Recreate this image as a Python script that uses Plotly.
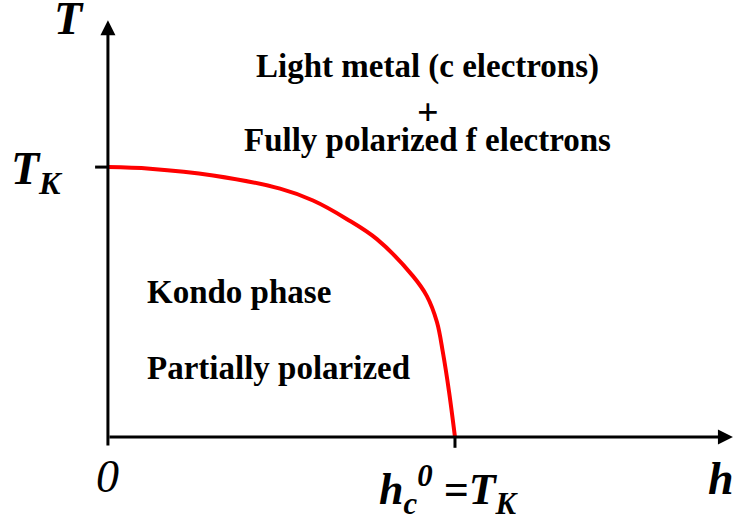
import plotly.graph_objects as go

# Phase boundary T*(h), normalised: h in units of hc0, T in units of TK
h_vals = [0.0, 0.121, 0.303, 0.496, 0.591, 0.689, 0.775, 0.879, 0.919, 0.948, 0.965, 0.983, 1.0]
T_vals = [1.0, 0.994, 0.969, 0.920, 0.876, 0.807, 0.733, 0.596, 0.522, 0.426, 0.315, 0.167, 0.0]

x_range = [-0.311, 1.804]
y_range = [-0.326, 1.619]

FONT = "Liberation Serif, Times New Roman, Times, serif"

fig = go.Figure()
fig.add_trace(go.Scatter(
    x=h_vals, y=T_vals, mode="lines",
    line=dict(color="#ff0000", width=4, shape="spline", smoothing=1.0),
    hoverinfo="skip", showlegend=False,
))

annotations = []
# axis arrows
annotations.append(dict(x=0, y=1.544, ax=0, ay=-0.037, xref="x", yref="y", axref="x", ayref="y",
                        text="", showarrow=True, arrowhead=2, arrowsize=1, arrowwidth=3,
                        arrowcolor="black", standoff=0, startstandoff=0))
annotations.append(dict(x=1.801, y=0, ax=0, ay=0, xref="x", yref="y", axref="x", ayref="y",
                        text="", showarrow=True, arrowhead=2, arrowsize=1, arrowwidth=3,
                        arrowcolor="black", standoff=0, startstandoff=0))

def txt(x, y, s, size, xanchor="center", yanchor="middle"):
    annotations.append(dict(x=x, y=y, xref="x", yref="y", text=s, showarrow=False,
                            xanchor=xanchor, yanchor=yanchor,
                            font=dict(family=FONT, size=size, color="black")))

txt(0.921, 1.374, "<b>Light metal (c electrons)</b>", 33)
txt(0.921, 1.205, "<b>+</b>", 38)
txt(0.921, 1.100, "<b>Fully polarized f electrons</b>", 33)
txt(0.107, 0.537, "<b>Kondo phase</b>", 33, xanchor="left")
txt(0.107, 0.256, "<b>Partially polarized</b>", 33, xanchor="left")

txt(-0.112, 1.550, "<b><i>T</i></b>", 46)
txt(-0.285, 0.98, "<b><i>T<sub>K</sub></i></b>", 46, xanchor="left")
txt(0.0, -0.148, "<i>0</i>", 46)
txt(1.767, -0.152, "<b><i>h</i></b>", 46)
txt(0.775, -0.196, "<b><i>h<sub>c</sub><sup>0</sup> =T<sub>K</sub></i></b>", 44, xanchor="left")

shapes = [
    dict(type="line", x0=-0.037, y0=1, x1=0, y1=1, xref="x", yref="y",
         line=dict(color="black", width=3)),
    dict(type="line", x0=1, y0=0, x1=1, y1=-0.04, xref="x", yref="y",
         line=dict(color="black", width=3)),
]

fig.update_layout(
    width=734, height=525,
    margin=dict(l=0, r=0, t=0, b=0),
    paper_bgcolor="white", plot_bgcolor="white",
    xaxis=dict(range=x_range, visible=False, fixedrange=True),
    yaxis=dict(range=y_range, visible=False, fixedrange=True),
    annotations=annotations, shapes=shapes,
    showlegend=False,
)

fig.write_html("out.html", config={"displayModeBar": False},
               post_script="document.body.style.margin='0';")
